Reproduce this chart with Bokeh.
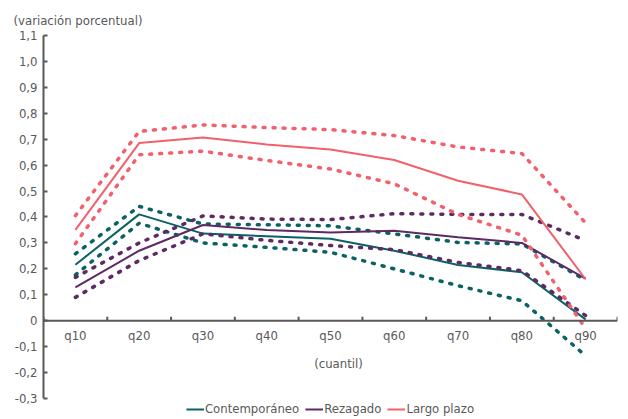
import math
from bokeh.plotting import figure
from bokeh.models import Range1d, LinearAxis, FixedTicker, Legend, LegendItem, Span, Label
from bokeh.core.properties import value
from bokeh.embed import file_html
from bokeh.resources import INLINE

cats = ["q10", "q20", "q30", "q40", "q50", "q60", "q70", "q80", "q90"]

cont = [0.216, 0.41, 0.336, 0.326, 0.316, 0.27, 0.215, 0.187, 0.005]
cont_hi = [0.258, 0.441, 0.373, 0.37, 0.366, 0.335, 0.302, 0.296, 0.157]
cont_lo = [0.177, 0.376, 0.30, 0.283, 0.264, 0.20, 0.135, 0.077, -0.135]

rez = [0.129, 0.27, 0.369, 0.35, 0.34, 0.347, 0.322, 0.30, 0.162]
rez_hi = [0.167, 0.30, 0.404, 0.392, 0.39, 0.413, 0.41, 0.41, 0.309]
rez_lo = [0.09, 0.232, 0.335, 0.31, 0.29, 0.274, 0.225, 0.193, 0.02]

lp = [0.35, 0.685, 0.707, 0.68, 0.66, 0.62, 0.54, 0.487, 0.16]
lp_hi = [0.405, 0.73, 0.755, 0.745, 0.737, 0.714, 0.67, 0.645, 0.377]
lp_lo = [0.297, 0.64, 0.654, 0.618, 0.585, 0.528, 0.41, 0.33, -0.03]

yticks = [-0.3, -0.2, -0.1, 0, 0.1, 0.2, 0.3, 0.4, 0.5, 0.6, 0.7, 0.8, 0.9, 1.0, 1.1]
ylabels = ["-0,3", "-0,2", "-0,1", "0", "0,1", "0,2", "0,3", "0,4", "0,5", "0,6",
           "0,7", "0,8", "0,9", "1,0", "1,1"]

FONT = "DejaVu Sans Condensed"
FS = "13px"
TXT = "#595959"
AX = "#595959"
C_CONT = "#0b6265"
C_REZ = "#5d2b63"
C_LP = "#f1606b"

# category centres on a numeric axis (one unit per category)
xs = [i + 0.5 for i in range(len(cats))]
bounds = list(range(len(cats) + 1))

# frame runs to the bottom of the canvas; the extra room below -0,3 holds the legend
p = figure(width=628, height=419, x_range=Range1d(0, len(cats)), y_range=Range1d(-0.381, 1.1),
           output_backend="svg", toolbar_location=None, x_axis_location=None,
           y_axis_location=None, min_border_left=43, min_border_right=11,
           min_border_top=35, min_border_bottom=0)
p.outline_line_color = None
p.xgrid.visible = False
p.ygrid.visible = False

p.title.text = "(variación porcentual)"
p.title.text_font = FONT
p.title.text_font_size = FS
p.title.text_font_style = "normal"
p.title.text_color = TXT
p.title.align = "left"
p.title.offset = -30
p.title.standoff = 16

# y axis
yax = LinearAxis(ticker=FixedTicker(ticks=yticks), bounds=(-0.3, 1.1))
yax.major_label_overrides = dict(zip(yticks, ylabels))
yax.major_tick_in = 4
yax.major_tick_out = 0
yax.minor_tick_line_color = None
yax.axis_line_color = AX
yax.axis_line_width = 2
yax.major_tick_line_color = AX
yax.major_tick_line_width = 2
yax.major_label_text_font = FONT
yax.major_label_text_font_size = FS
yax.major_label_text_color = TXT
yax.major_label_standoff = 6
p.add_layout(yax, "left")

# x axis drawn at y = 0
p.add_layout(Span(location=0, dimension="width", line_color=AX, line_width=2))
p.ray(x=bounds, y=[0] * len(bounds), length=4, length_units="screen", angle=math.pi / 2,
      line_color=AX, line_width=2)
p.text(x=xs, y=[0] * len(xs), text=cats, y_offset=7, text_align="center",
       text_baseline="top", text_font=value(FONT), text_font_size=FS, text_color=TXT)
p.add_layout(Label(x=len(cats) / 2, y=0, x_offset=8, y_offset=-43, text="(cuantil)",
                   text_align="center", text_baseline="middle", text_font=FONT,
                   text_font_size=FS, text_color=TXT))

def dotted(y, color):
    p.line(xs, y, line_color=color, line_width=3.5, line_dash="2 8", line_cap="round")

dotted(cont_hi, C_CONT)
dotted(cont_lo, C_CONT)
r_cont = p.line(xs, cont, line_color=C_CONT, line_width=2)
dotted(rez_hi, C_REZ)
dotted(rez_lo, C_REZ)
r_rez = p.line(xs, rez, line_color=C_REZ, line_width=2)
dotted(lp_hi, C_LP)
dotted(lp_lo, C_LP)
r_lp = p.line(xs, lp, line_color=C_LP, line_width=2)

legend = Legend(items=[LegendItem(label="Contemporáneo", renderers=[r_cont]),
                       LegendItem(label="Rezagado", renderers=[r_rez]),
                       LegendItem(label="Largo plazo", renderers=[r_lp])],
                orientation="horizontal", location="bottom_center")
legend.border_line_color = None
legend.background_fill_alpha = 0
legend.label_text_font = FONT
legend.label_text_font_size = FS
legend.label_text_color = TXT
legend.glyph_width = 18
legend.glyph_height = 14
legend.label_height = 14
legend.label_standoff = 1
legend.spacing = 6
legend.padding = 2
legend.margin = 3
p.add_layout(legend, "center")

open("out.html", "w").write(file_html(p, INLINE))
